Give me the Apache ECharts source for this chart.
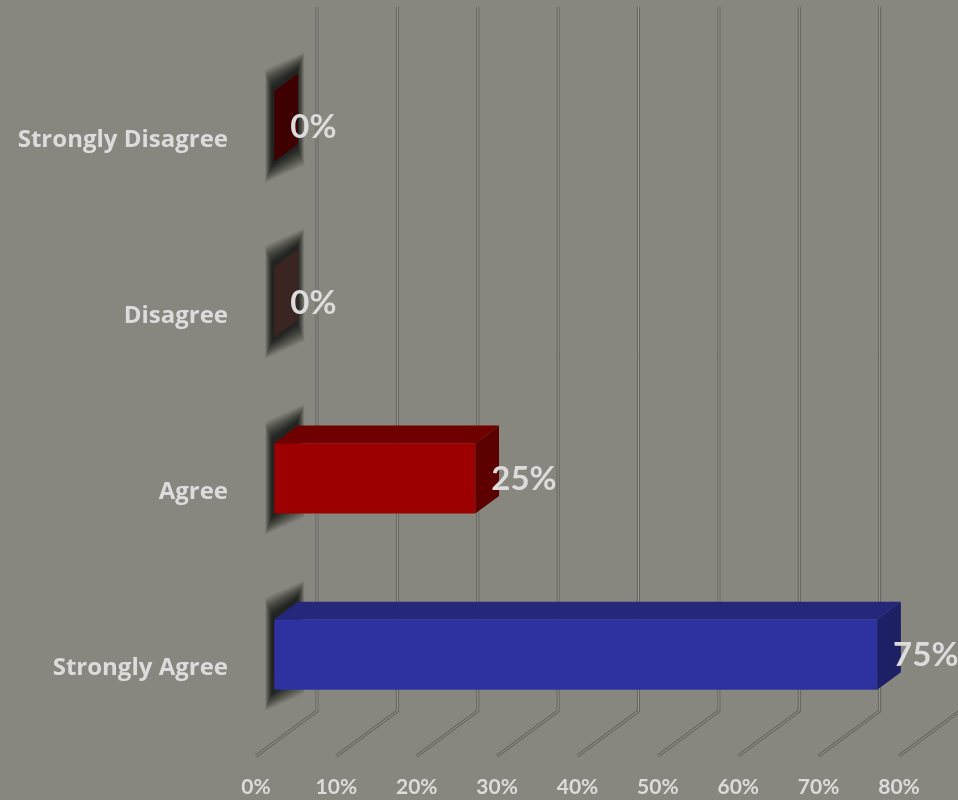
<!DOCTYPE html>
<html>
<head>
<meta charset="utf-8">
<script src="https://cdn.jsdelivr.net/npm/echarts@6/dist/echarts.min.js"></script>
<style>
html,body{margin:0;padding:0;background:#87877f;}
#chart{width:958px;height:800px;}
</style>
</head>
<body>
<div id="chart"></div>
<script>
// ---- data ----
const categories = ['Strongly Agree', 'Agree', 'Disagree', 'Strongly Disagree'];
const values = [75, 25, 0, 0];
const xTicks = [0, 10, 20, 30, 40, 50, 60, 70, 80];

// ---- styles ----
const faceColors = [
  { front: '#2e31a0', top: '#24277a', side: '#1e2066' },
  { front: '#9c0000', top: '#700000', side: '#5c0000' },
  { front: '#4a3030', top: '#3e2828', side: '#3a2523' },
  { front: '#520000', top: '#460000', side: '#3e0000' }
];
const DEPTH_X = 61, DEPTH_Y = -45;   // full 3D depth offset (front plane -> back wall)
const F1 = 0.30, F2 = 0.69;          // bar front / back depth fractions
const BAR_HALF = 0.2;                 // half bar thickness as fraction of band
const TXT = '#dcdcdc';
const FONT = 'Lato, "Open Sans", sans-serif';
const LABEL_FONT = '"Open Sans", Lato, sans-serif';

const chart = echarts.init(document.getElementById('chart'));

function gridRender(params, api) {
  const cs = params.coordSys;
  const xf = api.coord([api.value(0), 0])[0];
  const bottom = cs.y + cs.height;
  const top = cs.y;
  const pts = [
    [xf + DEPTH_X, top + DEPTH_Y],
    [xf + DEPTH_X, bottom + DEPTH_Y],
    [xf, bottom]
  ];
  return {
    type: 'group',
    children: [
      { type: 'polyline', shape: { points: pts }, style: { stroke: '#62625e', lineWidth: 3, fill: null } },
      { type: 'polyline', shape: { points: pts }, style: { stroke: '#9c9c95', lineWidth: 1, fill: null } }
    ]
  };
}

function barRender(params, api) {
  const v = api.value(0);
  const idx = api.value(1);
  const p0 = api.coord([0, idx]);
  const p1 = api.coord([v, idx]);
  const band = api.size([0, 1])[1];
  const h = band * BAR_HALF;
  const fx = F1 * DEPTH_X, fy = F1 * DEPTH_Y;
  const bx = (F2 - F1) * DEPTH_X, by = (F2 - F1) * DEPTH_Y;
  const xl = p0[0] + fx, xr = p1[0] + fx;
  const yt = p0[1] + fy - h, yb = p0[1] + fy + h;
  const c = faceColors[idx];
  const children = [];
  // soft shadow around the base end (layered)
  const N = 32;
  for (let i = N - 1; i >= 0; i--) {
    const ex = 0.3 + i * 0.24, ey = 3 + i * 0.6, sx = -1.5;
    const a = 0.03 + 0.06 * (1 - i / N);
    children.push({
      type: 'polygon',
      shape: { points: [
        [xl - ex + sx, yt - ey], [xl + bx + ex + sx, yt + by - ey],
        [xl + bx + ex + sx, yb + by + ey], [xl - ex + sx, yb + ey]
      ] },
      style: { fill: 'rgba(25,28,24,' + a.toFixed(3) + ')' }
    });
  }
  if (xr - xl > 0.5) {
    children.push({ type: 'rect', shape: { x: xl, y: yt, width: xr - xl, height: yb - yt }, style: { fill: c.front } });
    children.push({
      type: 'polygon',
      shape: { points: [[xl, yt], [xr, yt], [xr + bx, yt + by], [xl + bx, yt + by]] },
      style: { fill: c.top }
    });
  }
  children.push({
    type: 'polygon',
    shape: { points: [[xr, yt], [xr + bx, yt + by], [xr + bx, yb + by], [xr, yb]] },
    style: { fill: c.side }
  });
  children.push({
    type: 'text',
    style: {
      text: v + '%', x: xr + 16, y: (yt + yb) / 2 + 1,
      fill: TXT, font: 'bold 33px ' + FONT, align: 'left', verticalAlign: 'middle'
    }
  });
  return { type: 'group', children: children };
}

chart.setOption({
  backgroundColor: '#87877f',
  animation: false,
  grid: { left: 256, right: 59, top: 51.7, bottom: 44, containLabel: false },
  xAxis: {
    type: 'value', min: 0, max: 80, interval: 10,
    axisLine: { show: false }, axisTick: { show: false }, splitLine: { show: false },
    axisLabel: {
      formatter: function (val) { return xTicks.indexOf(val) >= 0 ? val + '%' : ''; },
      color: TXT, fontSize: 21, fontWeight: 'bold', fontFamily: FONT, margin: 21
    }
  },
  yAxis: {
    type: 'category', data: categories,
    axisLine: { show: false }, axisTick: { show: false }, splitLine: { show: false },
    axisLabel: { color: TXT, fontSize: 24, fontWeight: 'bold', fontFamily: LABEL_FONT, margin: 28 }
  },
  series: [
    {
      type: 'custom', renderItem: gridRender, clip: false, silent: true, z: 1,
      encode: { x: 0 },
      data: xTicks.map(function (t) { return [t]; })
    },
    {
      type: 'custom', renderItem: barRender, clip: false, z: 2,
      encode: { x: 0, y: 1 },
      data: values.map(function (v, i) { return [v, i]; })
    }
  ]
});
</script>
</body>
</html>
